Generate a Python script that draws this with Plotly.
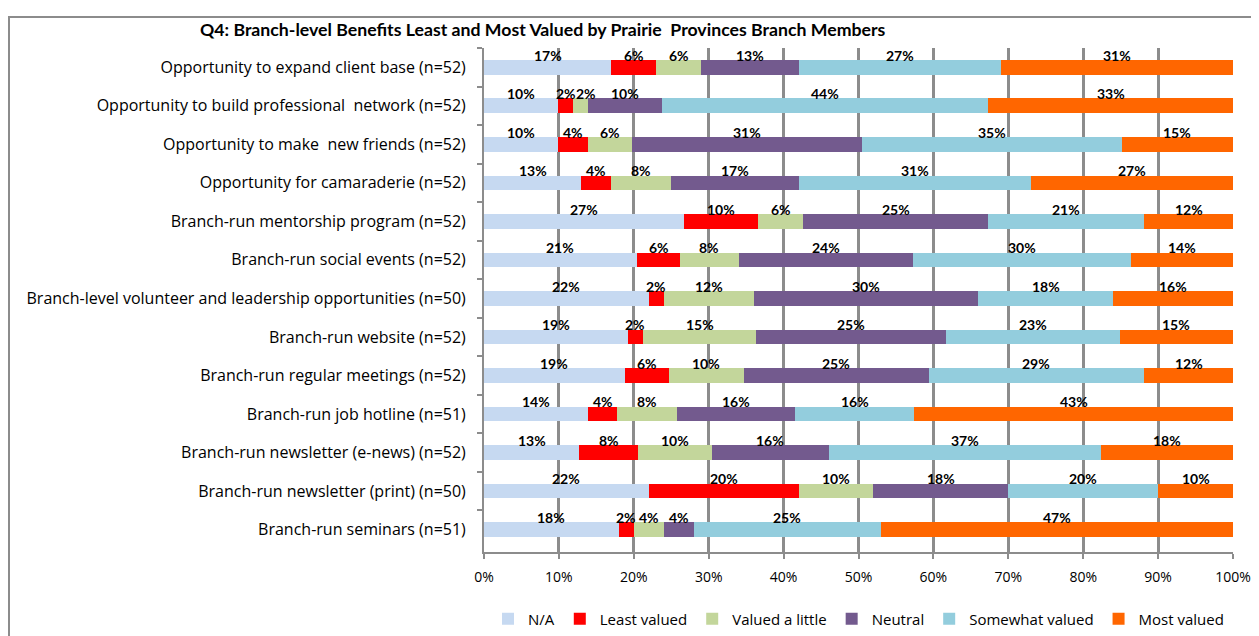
import plotly.graph_objects as go

categories = [
    "Opportunity to expand client base (n=52)",
    "Opportunity to build professional  network (n=52)",
    "Opportunity to make  new friends (n=52)",
    "Opportunity for camaraderie (n=52)",
    "Branch-run mentorship program (n=52)",
    "Branch-run social events (n=52)",
    "Branch-level volunteer and leadership opportunities (n=50)",
    "Branch-run website (n=52)",
    "Branch-run regular meetings (n=52)",
    "Branch-run job hotline (n=51)",
    "Branch-run newsletter (e-news) (n=52)",
    "Branch-run newsletter (print) (n=50)",
    "Branch-run seminars (n=51)",
]

series_names = ["N/A", "Least valued", "Valued a little", "Neutral", "Somewhat valued", "Most valued"]

na_vals       = [17, 10, 10, 13, 27, 21, 22, 19, 19, 14, 13, 22, 18]
least_vals    = [6, 2, 4, 4, 10, 6, 2, 2, 6, 4, 8, 20, 2]
little_vals   = [6, 2, 6, 8, 6, 8, 12, 15, 10, 8, 10, 10, 4]
neutral_vals  = [13, 10, 31, 17, 25, 24, 30, 25, 25, 16, 16, 18, 4]
somewhat_vals = [27, 44, 35, 31, 21, 30, 18, 23, 29, 16, 37, 20, 25]
most_vals     = [31, 33, 15, 27, 12, 14, 16, 15, 12, 43, 18, 10, 47]

colors = ["#C6D9F1", "#FF0000", "#C3D69B", "#735A8E", "#93CDDD", "#FF6600"]

series = [na_vals, least_vals, little_vals, neutral_vals, somewhat_vals, most_vals]

label_font = "'Open Sans', sans-serif"
bold_font = "Lato, sans-serif"

# the page body adds an 8px offset; the figure is sized to fit the window
W, H = 1251, 628
OFF = 8
plot_l, plot_r, plot_t, plot_b = 484, 1233, 48, 552  # window pixels
pw, ph = plot_r - plot_l, plot_b - plot_t

fig = go.Figure()
for name, vals, col in zip(series_names, series, colors):
    fig.add_trace(go.Bar(
        y=categories, x=vals, name=name, orientation="h",
        marker=dict(color=col, line=dict(width=0)),
    ))

annotations = []
MIN_GAP = 20  # px between neighbouring label centres
for i, cat in enumerate(categories):
    row = [s[i] for s in series]
    total = sum(row)
    cum = 0.0
    prev_px = None
    for v in row:
        center = (cum + v / 2.0) / total * 100.0
        cum += v
        px = center / 100.0 * pw
        shift = 0
        if prev_px is not None and px - prev_px < MIN_GAP:
            shift = MIN_GAP - (px - prev_px)
        prev_px = px + shift
        annotations.append(dict(
            x=center, y=cat, xref="x", yref="y", text=f"{v}%",
            showarrow=False, yshift=12, xshift=shift,
            font=dict(family=bold_font, size=14, color="#000000", weight="bold"),
        ))

annotations.append(dict(
    text="Q4: Branch-level Benefits Least and Most Valued by Prairie  Provinces Branch Members",
    x=(543 - plot_l) / pw, xref="paper", xanchor="center",
    y=1 + (plot_t - 30) / ph, yref="paper", yanchor="middle",
    showarrow=False,
    font=dict(family=bold_font, size=17.7, color="#000000", weight="bold"),
))

fig.update_layout(
    width=W, height=H,
    barmode="stack", barnorm="percent", bargap=0.62,
    paper_bgcolor="white", plot_bgcolor="white",
    margin=dict(l=plot_l - OFF, r=W - (plot_r - OFF), t=plot_t - OFF, b=H - (plot_b - OFF), autoexpand=False),
    font=dict(family=label_font, size=15, color="#000000"),
    xaxis=dict(
        range=[0, 100], dtick=10, ticksuffix="%", automargin=False,
        showgrid=True, gridcolor="#8C8C8C", gridwidth=2.5,
        showline=True, linecolor="#8C8C8C", linewidth=2,
        ticks="outside", ticklen=5, tickwidth=2, tickcolor="#8C8C8C",
        zeroline=False, tickfont=dict(family=label_font, size=14),
        ticklabelstandoff=6,
    ),
    yaxis=dict(
        autorange="reversed", automargin=False,
        showline=True, linecolor="#8C8C8C", linewidth=2,
        ticks="outside", tickson="boundaries", ticklen=5, tickwidth=2, tickcolor="#8C8C8C",
        tickfont=dict(family=label_font, size=16), ticklabelstandoff=13,
    ),
    legend=dict(
        orientation="h", x=0.5, xanchor="center", xref="paper",
        y=(H - (619 - OFF)) / H, yanchor="middle", yref="container",
        font=dict(family=label_font, size=15), traceorder="normal",
        itemwidth=30,
    ),
    annotations=annotations,
    shapes=[dict(
        type="rect", xref="paper", yref="paper",
        x0=(9 - plot_l) / pw, x1=(1257 - plot_l) / pw,
        y0=-(660 - plot_b) / ph, y1=1 + (plot_t - 17) / ph,
        line=dict(color="#8C8C8C", width=2), layer="below",
    )],
)

fig.write_html("out.html")
